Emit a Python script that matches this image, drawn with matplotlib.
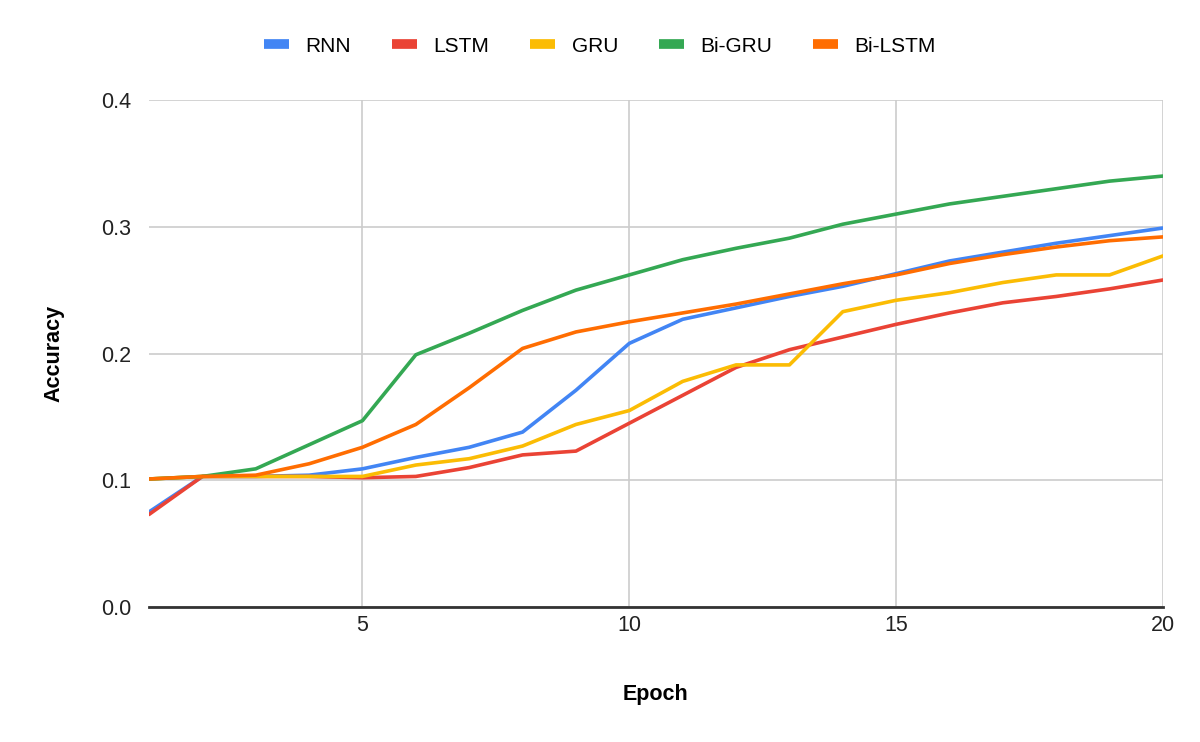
import matplotlib
matplotlib.use("Agg")
import matplotlib.pyplot as plt
import numpy as np

plt.rcParams['font.family'] = ['Liberation Sans', 'DejaVu Sans']

epochs = list(range(1, 21))

# accuracy per model
rnn = [0.075, 0.103, 0.103, 0.104, 0.109, 0.118, 0.126, 0.138, 0.171, 0.208,
       0.227, 0.236, 0.245, 0.253, 0.263, 0.273, 0.280, 0.287, 0.293, 0.299]
lstm = [0.073, 0.103, 0.103, 0.103, 0.102, 0.103, 0.110, 0.120, 0.123, 0.145,
        0.167, 0.189, 0.203, 0.213, 0.223, 0.232, 0.240, 0.245, 0.251, 0.258]
gru = [0.101, 0.103, 0.103, 0.103, 0.103, 0.112, 0.117, 0.127, 0.144, 0.155,
       0.178, 0.191, 0.191, 0.233, 0.242, 0.248, 0.256, 0.262, 0.262, 0.277]
bi_gru = [0.101, 0.103, 0.109, 0.128, 0.147, 0.199, 0.216, 0.234, 0.250, 0.262,
          0.274, 0.283, 0.291, 0.302, 0.310, 0.318, 0.324, 0.330, 0.336, 0.340]
bi_lstm = [0.101, 0.103, 0.104, 0.113, 0.126, 0.144, 0.173, 0.204, 0.217, 0.225,
           0.232, 0.239, 0.247, 0.255, 0.262, 0.271, 0.278, 0.284, 0.289, 0.292]

series = [("RNN", rnn, "#4285F4"),
          ("LSTM", lstm, "#EA4335"),
          ("GRU", gru, "#FBBC04"),
          ("Bi-GRU", bi_gru, "#34A853"),
          ("Bi-LSTM", bi_lstm, "#FF6D01")]

fig = plt.figure(figsize=(12, 7.42), dpi=100)
ax = fig.add_axes([149/1200, 1 - 607/742, (1163 - 149)/1200, (607 - 100)/742])

for name, vals, col in series:
    ax.plot(epochs, vals, color=col, lw=2.6, label=name, solid_capstyle='round', zorder=3)

ax.set_xlim(1, 20)
ax.set_ylim(0, 0.4)
ax.set_xticks([5, 10, 15, 20])
ax.set_yticks([0.0, 0.1, 0.2, 0.3, 0.4])
ax.set_yticklabels(["0.0", "0.1", "0.2", "0.3", "0.4"])
ax.grid(True, color="#cccccc", lw=1.2, zorder=0)
ax.tick_params(length=0, labelsize=15.5, colors="#222222", pad=13)
ax.tick_params(axis='x', pad=6)

for s in ["top", "right", "left"]:
    ax.spines[s].set_visible(False)
ax.spines["bottom"].set_color("#333333")
ax.spines["bottom"].set_linewidth(2)
ax.spines["bottom"].set_zorder(4)

ax.set_xlabel("Epoch", fontsize=15.5, fontweight="bold", labelpad=34)
ax.set_ylabel("Accuracy", fontsize=15.5, fontweight="bold", labelpad=26)

leg = fig.legend(loc="center", bbox_to_anchor=(0.5, 1 - 46/742), ncol=5, frameon=False,
                 fontsize=15, handlelength=1.2, handletextpad=0.8, columnspacing=1.95)
for h in leg.get_lines():
    h.set_linewidth(7)
    h.set_solid_capstyle('butt')

fig.savefig("out.png", dpi=100)
